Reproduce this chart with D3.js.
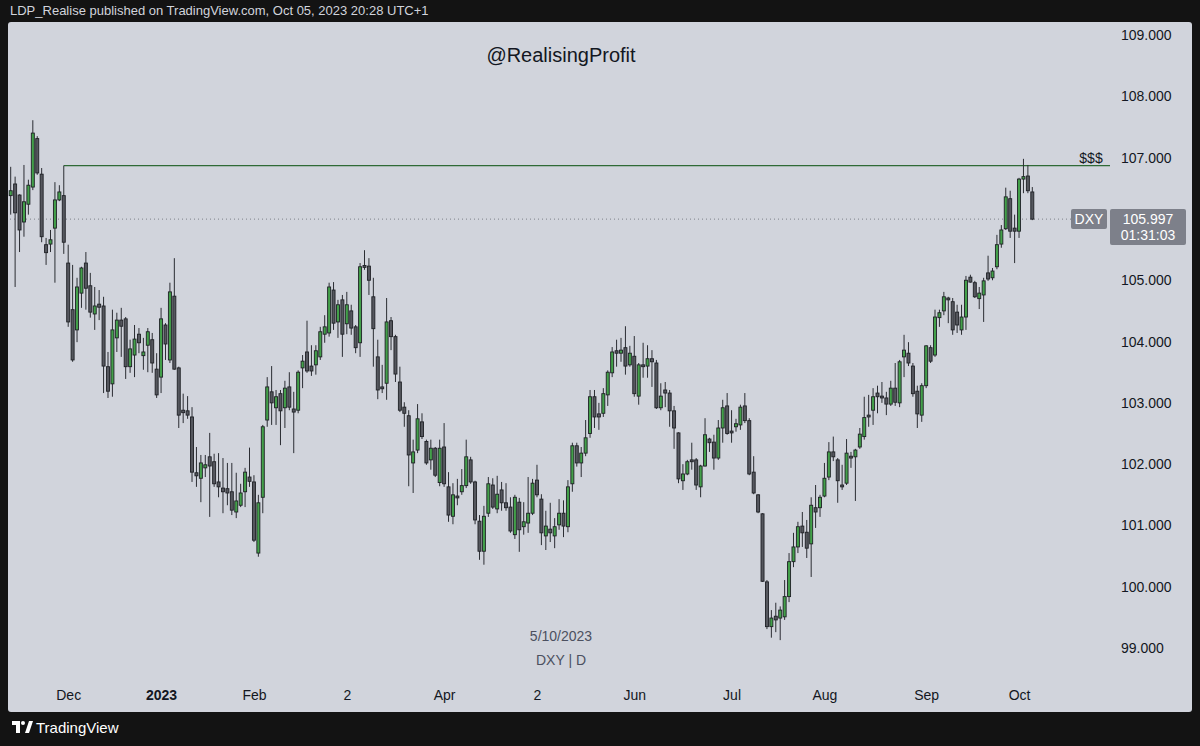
<!DOCTYPE html>
<html><head><meta charset="utf-8">
<script src="https://cdn.jsdelivr.net/npm/d3@7/dist/d3.min.js"></script>
<style>html,body{margin:0;padding:0;background:#131313;}svg{display:block;}</style>
</head><body>
<svg id="chart" width="1200" height="746"></svg>
<script>
// ---- DATA (DXY daily) ----
const opens = [106.38,106.57,106.39,105.95,106.24,106.52,107.31,106.73,105.58,105.59,105.85,106.31,106.38,105.28,104.52,104.19,104.79,105.28,104.91,104.45,
104.61,104.58,103.59,103.31,104.06,104.35,104.37,103.59,103.78,104.12,103.77,103.94,104.03,103.55,103.42,104.27,103.70,104.74,103.57,102.88,
102.87,102.77,101.86,101.77,101.94,102.12,102.04,101.71,101.61,101.60,101.55,101.22,101.33,101.55,101.79,101.71,100.55,101.46,102.72,
103.18,102.92,103.15,102.92,103.26,102.90,102.88,103.57,103.83,103.60,103.62,103.75,104.12,104.14,104.84,104.32,104.68,104.29,104.50,
104.24,103.98,105.24,105.23,104.73,103.75,103.26,103.32,104.34,104.08,103.34,102.93,102.79,102.02,102.23,102.69,102.37,102.07,102.26,
101.70,102.28,101.63,101.15,101.48,101.55,101.65,102.07,101.71,101.07,100.58,101.20,101.66,101.27,101.58,101.37,101.30,100.85,101.38,
100.98,101.04,101.20,101.74,101.43,100.83,100.94,100.83,101.01,101.20,100.98,101.68,102.30,102.02,102.18,102.50,103.10,102.82,102.83,103.13,
103.49,103.85,103.81,103.90,103.62,103.76,103.11,103.62,103.60,103.72,103.65,102.92,103.21,103.16,102.87,102.51,101.73,101.84,102.07,
102.07,101.63,101.97,102.41,102.36,102.10,102.59,102.95,102.54,102.61,102.64,102.95,102.71,101.87,101.50,101.19,100.08,99.35,99.52,
99.49,99.51,99.84,100.41,100.65,100.99,100.89,100.70,101.29,101.29,101.48,101.79,102.20,102.07,101.66,101.69,102.13,102.12,102.28,102.45,
102.80,102.88,103.16,103.11,103.08,102.98,103.24,103.00,103.75,103.81,103.60,103.19,102.80,103.28,103.90,103.78,104.39,104.50,104.71,
104.65,104.48,104.19,104.40,105.05,104.96,104.70,104.76,105.12,105.04,105.22,105.59,105.84,106.33,105.85,105.80,106.65,106.70,106.44];
const highs = [106.85,106.69,106.40,106.88,106.64,107.61,107.35,106.83,105.69,105.82,106.60,106.55,106.87,105.58,105.25,105.04,105.22,105.46,105.12,104.89,
104.84,104.73,103.83,104.52,104.47,104.55,104.40,104.03,104.27,104.22,104.06,104.22,104.14,103.81,104.55,104.30,104.96,105.36,103.59,103.15,
103.11,102.93,102.28,102.15,102.15,102.51,102.17,102.18,102.10,102.02,102.02,101.86,101.68,101.94,102.27,101.82,101.50,102.64,103.42,
103.60,103.21,103.21,103.36,103.50,103.18,103.53,103.78,104.34,103.94,103.94,104.24,104.43,104.96,104.97,104.68,104.76,104.81,104.60,
104.27,105.28,105.49,105.36,105.04,104.03,103.62,104.71,104.40,104.11,103.59,103.01,102.88,102.40,102.98,102.83,102.40,102.40,102.28,
102.40,102.67,101.87,101.69,101.76,101.92,102.40,102.12,101.73,101.17,101.32,101.79,101.77,101.81,101.71,101.69,101.46,101.50,101.45,
101.38,101.79,101.76,101.99,101.51,101.24,101.37,101.12,101.43,101.41,101.74,102.35,102.35,102.28,102.72,103.21,103.21,103.00,103.24,103.53,
103.91,104.03,104.06,104.25,103.93,104.09,103.65,103.98,103.94,103.86,103.70,103.32,103.34,103.21,102.95,102.52,102.00,102.07,102.35,
102.10,101.99,102.75,102.43,102.48,102.72,103.05,103.16,102.88,102.74,102.97,103.16,102.75,102.13,101.51,101.20,100.11,99.62,99.74,
99.68,100.11,100.55,100.88,101.06,101.22,101.09,101.46,101.66,101.50,102.02,102.36,102.45,102.10,101.99,102.41,102.20,102.25,102.59,103.10,
103.13,103.24,103.28,103.34,103.18,103.36,103.65,103.70,104.11,103.99,103.65,103.28,103.32,103.94,103.94,104.52,104.52,104.81,104.73,
104.71,104.60,104.60,105.07,105.09,104.99,104.89,105.04,105.40,105.20,105.74,105.90,106.51,106.46,106.07,106.67,106.98,106.88,106.52];
const lows = [106.07,104.89,105.46,105.71,106.07,106.47,106.72,105.62,105.25,105.46,104.96,106.29,105.43,104.24,103.67,103.99,104.55,104.52,104.39,104.19,
104.35,103.16,103.08,103.10,103.83,103.75,103.39,103.49,103.42,103.81,103.54,103.50,103.49,103.08,103.16,103.70,103.65,103.54,102.59,102.67,
102.74,101.71,101.63,101.38,101.79,101.14,101.63,101.46,101.20,101.33,101.17,101.12,101.30,101.30,101.63,100.73,100.49,101.20,102.61,
102.64,102.64,102.31,102.59,102.88,102.18,102.83,103.24,103.49,103.44,103.46,103.70,103.98,104.08,104.19,104.06,103.75,104.12,104.11,
103.81,103.75,105.17,104.76,103.59,103.06,103.16,103.05,103.86,103.34,102.85,102.61,101.64,101.53,102.18,102.41,101.99,101.91,101.79,
101.64,101.63,101.06,101.02,101.33,101.50,101.61,101.68,101.02,100.44,100.36,101.14,101.27,101.20,101.24,101.24,100.88,100.78,100.57,
100.85,100.88,101.17,101.46,100.68,100.60,100.73,100.63,100.93,100.81,100.89,101.55,101.96,101.79,102.13,102.43,102.59,102.56,102.77,102.95,
103.42,103.59,103.67,103.46,103.59,103.10,102.97,103.41,103.41,103.26,102.90,102.88,102.93,102.61,102.25,101.69,101.58,101.82,101.91,
101.58,101.46,101.96,102.20,101.91,102.07,102.35,102.48,102.35,102.53,102.56,102.67,101.82,101.51,101.20,100.08,99.31,99.17,99.26,
99.13,99.46,99.75,100.32,100.55,100.65,100.47,100.16,100.96,101.14,101.46,101.74,102.05,101.37,101.58,101.66,101.94,101.40,102.25,102.40,
102.61,102.64,102.83,103.00,102.80,102.95,102.95,102.93,103.42,103.60,103.10,102.59,102.69,103.24,103.65,103.75,104.24,104.43,104.30,
104.11,104.14,104.11,104.19,104.96,104.71,104.53,104.32,104.99,105.00,105.18,105.53,105.82,105.69,105.28,105.69,106.42,106.42,105.98];
const closes = [106.46,106.10,105.82,106.28,106.55,107.40,106.75,105.71,105.45,105.66,106.31,106.44,105.62,104.32,103.70,104.89,105.20,104.87,104.48,104.58,
104.56,103.60,103.19,104.19,104.35,104.25,103.59,103.88,104.04,103.98,103.83,104.16,103.65,103.13,104.37,103.96,104.81,103.55,102.80,102.84,
102.80,101.87,101.81,102.02,101.99,101.97,101.68,101.63,101.55,101.53,101.25,101.40,101.53,101.87,101.72,100.76,101.37,102.61,103.26,
103.00,103.10,102.87,103.24,102.93,102.85,103.50,103.68,103.52,103.52,103.85,104.16,104.24,104.89,104.30,104.60,104.12,104.60,104.22,
103.90,105.22,105.21,105.00,104.21,103.21,103.23,104.32,104.08,103.47,102.88,102.83,102.15,102.20,102.74,102.45,102.02,102.26,101.82,
102.26,101.68,101.17,101.50,101.45,101.65,102.12,101.71,101.09,100.58,101.15,101.68,101.30,101.51,101.37,101.29,100.91,101.46,100.93,
101.06,101.20,101.69,101.50,100.88,100.99,100.88,100.98,101.20,100.99,101.63,102.30,102.02,102.18,102.43,103.10,102.77,102.77,103.15,103.50,
103.83,103.81,103.86,103.60,103.81,103.15,103.62,103.59,103.72,103.67,102.92,103.11,103.16,102.87,102.59,101.76,101.84,102.04,102.04,
101.66,101.97,102.48,102.35,102.10,102.59,102.92,102.50,102.51,102.66,102.93,102.71,101.84,101.53,101.22,100.09,99.35,99.49,99.46,
99.62,99.84,100.41,100.65,100.98,100.88,100.63,101.33,101.22,101.46,101.77,102.20,102.12,101.73,101.63,102.18,102.10,102.23,102.49,102.76,
102.77,103.10,103.10,103.08,102.98,103.24,103.01,103.67,103.86,103.65,103.15,102.82,103.28,103.93,103.68,104.40,104.47,104.73,104.68,
104.19,104.27,104.40,105.00,104.97,104.73,104.79,104.99,105.02,105.15,105.58,105.82,106.36,105.80,105.80,106.65,106.69,106.46,105.997];

const priceTicks = [99,100,101,102,103,104,105,106,107,108,109];
const timeLabels = ["Dec","2023","Feb","2","Apr","2","Jun","Jul","Aug","Sep","Oct"];
const timeLabelBars = [13,34,55,76,98,119,141,163,184,207,228];
const levelPrice = 106.87;   // "$$$" level
const levelStartBar = 12;
const lastPrice = 105.997;

// ---- DRAW ----
const svg = d3.select("#chart");
const W = 1200, H = 746;
const font = "'Liberation Sans', Arial, sans-serif";

svg.append("rect").attr("width", W).attr("height", H).attr("fill", "#131313");
svg.append("rect").attr("x", 8).attr("y", 22).attr("width", 1184).attr("height", 690)
  .attr("rx", 3).attr("fill", "#d1d4dc");

svg.append("text").attr("x", 10).attr("y", 15).attr("font-family", font).attr("font-size", 13)
  .attr("fill", "#d1d4dc").text("LDP_Realise published on TradingView.com, Oct 05, 2023 20:28 UTC+1");

const n = closes.length;
const x = d3.scaleLinear().domain([0, n - 1]).range([10.7, 1032.3]);
const y = d3.scaleLinear().domain([99, 109]).range([648.1, 35]);

const data = d3.range(n).map(i => ({i, o: opens[i], h: highs[i], l: lows[i], c: closes[i]}));

// price axis
const yAxis = d3.axisRight(y).tickValues(priceTicks).tickFormat(d3.format(".3f")).tickSize(0).tickPadding(0);
const gy = svg.append("g").attr("transform", "translate(1121,0)").call(yAxis);
gy.select(".domain").remove();
gy.selectAll("text").attr("font-family", font).attr("font-size", 14).attr("fill", "#131722");

// time axis
const xAxis = d3.axisBottom(x).tickValues(timeLabelBars)
  .tickFormat((d, k) => timeLabels[k]).tickSize(0).tickPadding(0);
const gx = svg.append("g").attr("transform", "translate(0,690)").call(xAxis);
gx.select(".domain").remove();
gx.selectAll("text").attr("font-family", font).attr("font-size", 14).attr("fill", "#131722")
  .attr("font-weight", (d, k) => timeLabels[k] === "2023" ? "bold" : "normal");

// watermark texts
svg.append("text").attr("x", 561).attr("y", 62).attr("text-anchor", "middle").attr("font-family", font)
  .attr("font-size", 20).attr("fill", "#131722").text("@RealisingProfit");
svg.append("text").attr("x", 561).attr("y", 641).attr("text-anchor", "middle").attr("font-family", font)
  .attr("font-size", 14).attr("fill", "#4c5060").text("5/10/2023");
svg.append("text").attr("x", 561).attr("y", 665).attr("text-anchor", "middle").attr("font-family", font)
  .attr("font-size", 14).attr("fill", "#4c5060").text("DXY | D");

// current price dotted line
svg.append("line").attr("x1", 10).attr("x2", 1110).attr("y1", y(lastPrice)).attr("y2", y(lastPrice))
  .attr("stroke", "#7d808a").attr("stroke-width", 1).attr("stroke-dasharray", "1,3");

// level line
svg.append("line").attr("x1", x(levelStartBar)).attr("x2", 1110).attr("y1", y(levelPrice)).attr("y2", y(levelPrice))
  .attr("stroke", "#2f6a36").attr("stroke-width", 1.3);
svg.append("text").attr("x", 1091).attr("y", y(levelPrice) - 3).attr("text-anchor", "middle")
  .attr("font-family", font).attr("font-size", 14).attr("fill", "#131722").text("$$$");

// candles
const cg = svg.append("g");
cg.selectAll("line.w").data(data).join("line").attr("class", "w")
  .attr("x1", d => x(d.i)).attr("x2", d => x(d.i))
  .attr("y1", d => y(d.h)).attr("y2", d => y(d.l))
  .attr("stroke", "#2b2d33").attr("stroke-width", 1);
cg.selectAll("rect.b").data(data).join("rect").attr("class", "b")
  .attr("x", d => x(d.i) - 1.5).attr("width", 3)
  .attr("y", d => y(Math.max(d.o, d.c)))
  .attr("height", d => Math.max(1, Math.abs(y(d.o) - y(d.c))))
  .attr("fill", d => d.c >= d.o ? "#43a04a" : "#55575e")
  .attr("stroke", "#1f2126").attr("stroke-width", 0.9);

// price labels
const py = y(lastPrice);
svg.append("rect").attr("x", 1071).attr("y", py - 10).attr("width", 36).attr("height", 20).attr("rx", 2).attr("fill", "#7d808a");
svg.append("text").attr("x", 1089).attr("y", py + 5).attr("text-anchor", "middle").attr("font-family", font)
  .attr("font-size", 14).attr("fill", "#ffffff").text("DXY");
svg.append("rect").attr("x", 1110).attr("y", py - 10).attr("width", 76).attr("height", 36).attr("rx", 2).attr("fill", "#7d808a");
svg.append("text").attr("x", 1148).attr("y", py + 5).attr("text-anchor", "middle").attr("font-family", font)
  .attr("font-size", 14).attr("fill", "#ffffff").text(d3.format(".3f")(lastPrice));
svg.append("text").attr("x", 1148).attr("y", py + 21).attr("text-anchor", "middle").attr("font-family", font)
  .attr("font-size", 14).attr("fill", "#ffffff").text("01:31:03");

// footer logo
const lg = svg.append("g").attr("transform", "translate(12,721)").attr("fill", "#ffffff");
lg.append("path").attr("d", "M0,0 H8 V12 H4 V4 H0 Z");
lg.append("circle").attr("cx", 11).attr("cy", 2).attr("r", 2);
lg.append("path").attr("d", "M13,12 L17,0 H21 L17,12 Z");
svg.append("text").attr("x", 36).attr("y", 733).attr("font-family", font).attr("font-size", 15)
  .attr("fill", "#ffffff").text("TradingView");
</script>
</body></html>
